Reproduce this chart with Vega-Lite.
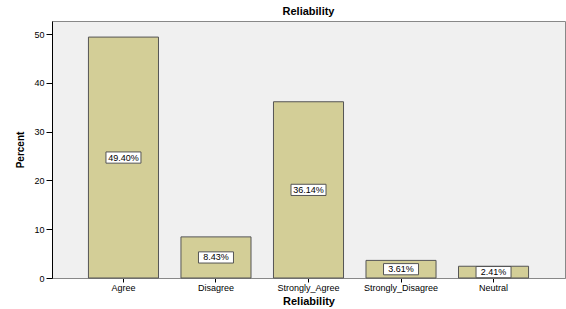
{
  "$schema": "https://vega.github.io/schema/vega-lite/v6.json",
  "autosize": "none",
  "width": 513,
  "height": 257,
  "padding": {"left": 52, "top": 21, "right": 1, "bottom": 31},
  "background": "white",
  "config": {
    "font": "Liberation Sans",
    "view": {"fill": "#F0F0F0", "stroke": "#888888", "strokeWidth": 1}
  },
  "title": {
    "text": "Reliability",
    "fontSize": 11,
    "fontWeight": "bold",
    "font": "Liberation Sans",
    "color": "black",
    "anchor": "middle",
    "offset": 4
  },
  "data": {
    "values": [
      {"Reliability": "Agree", "pct": 49.40},
      {"Reliability": "Disagree", "pct": 8.43},
      {"Reliability": "Strongly_Agree", "pct": 36.14},
      {"Reliability": "Strongly_Disagree", "pct": 3.61},
      {"Reliability": "Neutral", "pct": 2.41}
    ]
  },
  "transform": [
    {"calculate": "datum.pct / 2", "as": "mid"},
    {"calculate": "format(datum.pct, '.2f') + '%'", "as": "label"}
  ],
  "encoding": {
    "x": {
      "field": "Reliability",
      "type": "nominal",
      "sort": null,
      "scale": {"paddingInner": 0.243, "paddingOuter": 0.394},
      "axis": {
        "title": "Reliability",
        "titleFontSize": 11,
        "titleFontWeight": "bold",
        "titleColor": "black",
        "titlePadding": 3,
        "labelAngle": 0,
        "labelFontSize": 9,
        "labelColor": "black",
        "labelPadding": 1,
        "tickSize": 4,
        "tickColor": "black",
        "domainColor": "#888888",
        "grid": false
      }
    }
  },
  "layer": [
    {
      "mark": {"type": "bar", "fill": "#D3CE97", "stroke": "#555555", "strokeWidth": 1},
      "encoding": {
        "y": {
          "field": "pct",
          "type": "quantitative",
          "scale": {"domain": [0, 52.7], "nice": false},
          "axis": {
            "title": "Percent",
            "titleFontSize": 10,
            "titleFontWeight": "bold",
            "titleColor": "black",
            "titlePadding": 8,
            "values": [0, 10, 20, 30, 40, 50],
            "labelFontSize": 9,
            "labelColor": "black",
            "labelPadding": 2,
            "tickSize": 6,
            "tickColor": "black",
            "domainColor": "black",
            "grid": false
          }
        }
      }
    },
    {
      "mark": {
        "type": "point",
        "shape": "M-1,-0.32H1V0.32H-1Z",
        "size": 1225,
        "filled": true,
        "fill": "white",
        "stroke": "#555555",
        "strokeWidth": 1,
        "opacity": 1
      },
      "encoding": {
        "y": {"field": "mid", "type": "quantitative"}
      }
    },
    {
      "mark": {"type": "text", "fontSize": 9, "color": "black", "baseline": "middle", "align": "center"},
      "encoding": {
        "y": {"field": "mid", "type": "quantitative"},
        "text": {"field": "label", "type": "nominal"}
      }
    }
  ]
}
